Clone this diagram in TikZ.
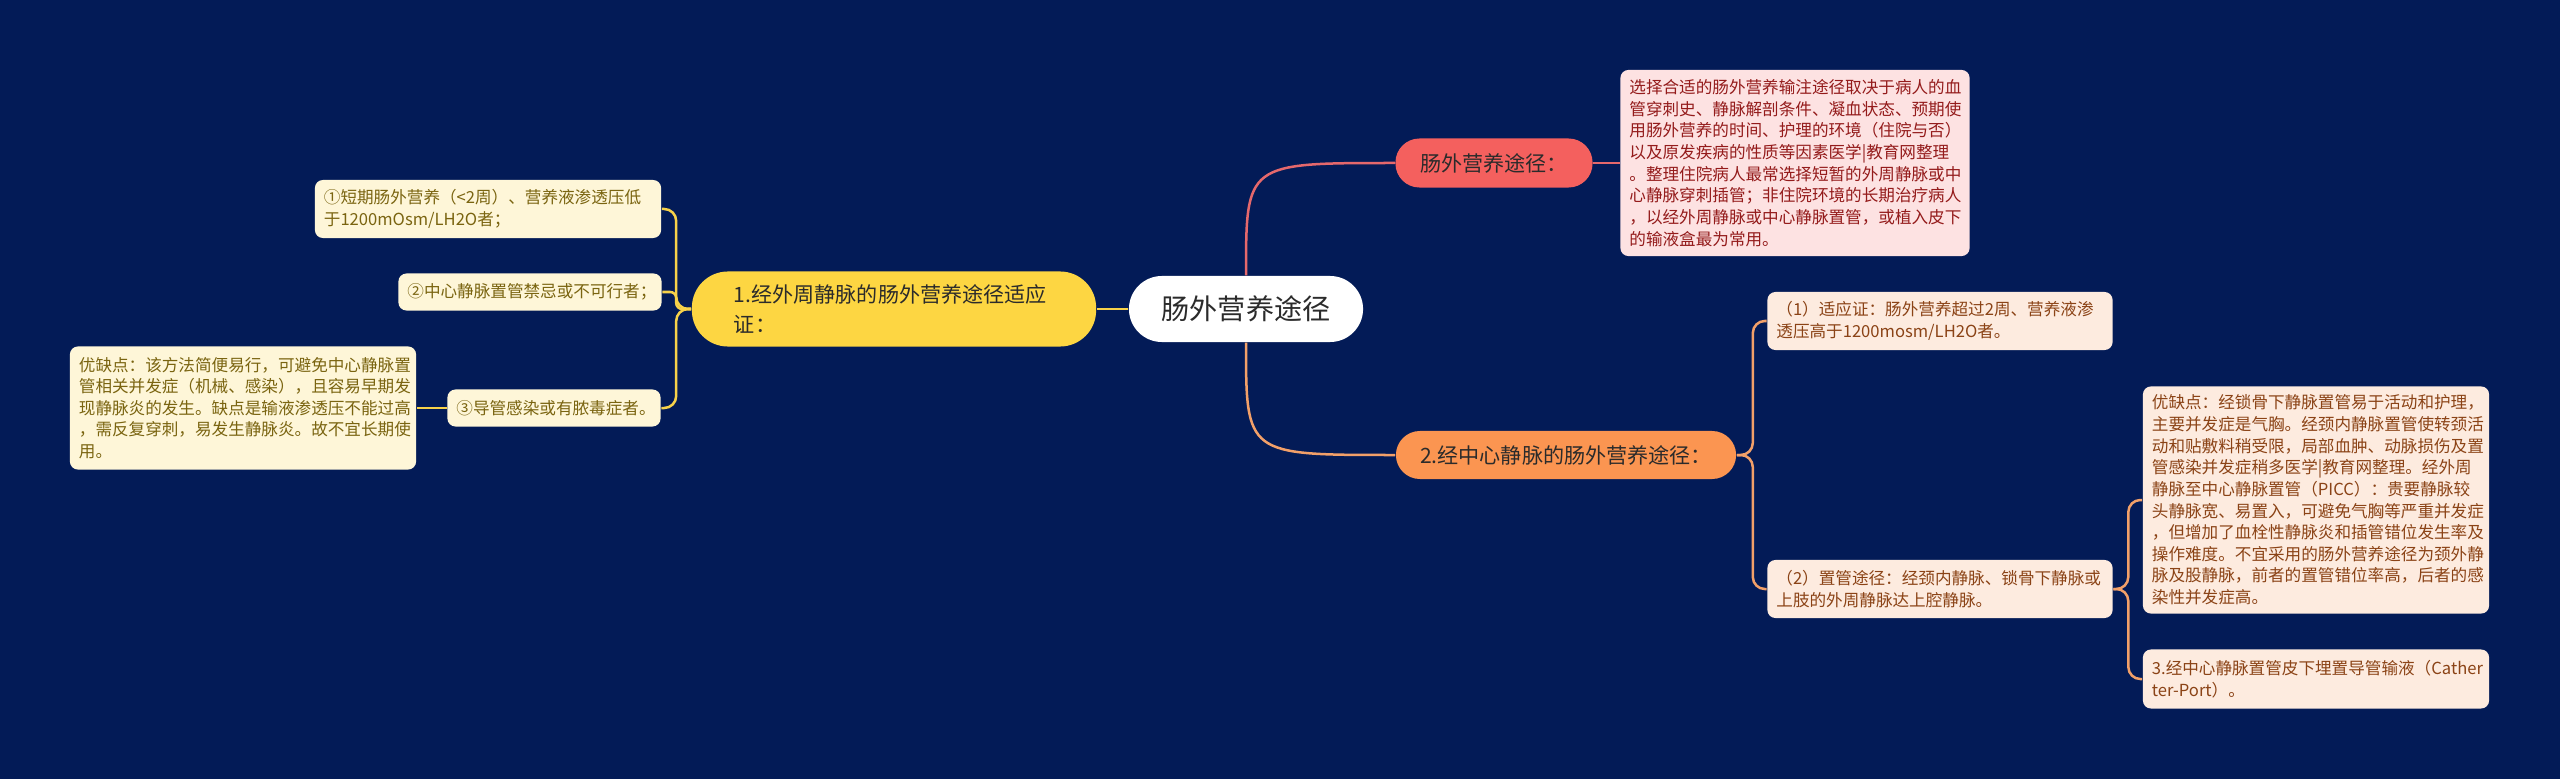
\documentclass[tikz,border=0pt]{standalone}
\usepackage{fontspec}
\setmainfont{Noto Sans CJK SC}
\setlength{\lineskiplimit}{-4pt}

\definecolor{navy}{HTML}{031B57}
\definecolor{redfill}{HTML}{F4605E}
\definecolor{orangefill}{HTML}{FB9551}
\definecolor{yellowfill}{HTML}{FDD642}
\definecolor{redleaf}{HTML}{FDE2E2}
\definecolor{orangeleaf}{HTML}{FDEBDF}
\definecolor{yellowleaf}{HTML}{FEF6D8}
\definecolor{redtext}{HTML}{941B1B}
\definecolor{orangetext}{HTML}{8B4316}
\definecolor{yellowtext}{HTML}{7A6410}
\definecolor{redline}{HTML}{E5686C}
\definecolor{orangeline}{HTML}{F2A069}
\definecolor{yellowline}{HTML}{F7D24A}
\definecolor{darktext}{HTML}{2B2B2B}

\begin{document}
\begin{tikzpicture}[x=0.01cm,y=-0.01cm,
  topic/.style={rounded corners=0.24cm,inner sep=0,text=darktext,
    font=\fontsize{6pt}{8.3pt}\selectfont},
  leaf/.style={rounded corners=0.08cm,inner xsep=0.09cm,inner ysep=0,align=left,
    font=\fontsize{4.72pt}{6.15pt}\selectfont},
  redbox/.style={leaf,fill=redleaf,text=redtext},
  orangebox/.style={leaf,fill=orangeleaf,text=orangetext},
  yellowbox/.style={leaf,fill=yellowleaf,text=yellowtext},
  link/.style={line width=0.025cm}]

\fill[navy] (0,0) rectangle (2560,779);
\useasboundingbox (0,0) rectangle (2560,779);

% centre
\node[fill=white,rounded corners=0.33cm,minimum width=2.34cm,minimum height=0.66cm,inner sep=0,
  text=darktext,font=\fontsize{8pt}{10pt}\selectfont] (root) at (1246,309) {肠外营养途径};

% first level
\node[topic,fill=redfill,minimum width=1.97cm,minimum height=0.49cm] (choose) at (1494,163) {肠外营养途径：};
\node[topic,fill=orangefill,minimum width=3.40cm,minimum height=0.48cm] (central) at (1566,455) {2.经中心静脉的肠外营养途径：};
\node[topic,fill=yellowfill,rounded corners=0.36cm,minimum width=4.04cm,minimum height=0.75cm,
  align=left,text width=3.2cm] (peripheral) at (894,309) {1.经外周静脉的肠外营养途径适应\\证：};

% right side
\node[redbox,text width=3.31cm,minimum height=1.86cm] (choosebox) at (1795,163) {选择合适的肠外营养输注途径取决于病人的血\\管穿刺史、静脉解剖条件、凝血状态、预期使\\用肠外营养的时间、护理的环境（住院与否）\\以及原发疾病的性质等因素医学|教育网整理\\。整理住院病人最常选择短暂的外周静脉或中\\心静脉穿刺插管；非住院环境的长期治疗病人\\，以经外周静脉或中心静脉置管，或植入皮下\\的输液盒最为常用。};

\node[orangebox,text width=3.27cm,minimum height=0.58cm] (indication) at (1940,321) {（1）适应证：肠外营养超过2周、营养液渗\\透压高于1200mosm/LH2O者。};
\node[orangebox,text width=3.27cm,minimum height=0.58cm] (route) at (1940,589) {（2）置管途径：经颈内静脉、锁骨下静脉或\\上肢的外周静脉达上腔静脉。};
\node[orangebox,text width=3.28cm,minimum height=2.27cm] (centralpros) at (2316,500) {优缺点：经锁骨下静脉置管易于活动和护理，\\主要并发症是气胸。经颈内静脉置管使转颈活\\动和贴敷料稍受限，局部血肿、动脉损伤及置\\管感染并发症稍多医学|教育网整理。经外周\\静脉至中心静脉置管（PICC）：贵要静脉较\\头静脉宽、易置入，可避免气胸等严重并发症\\，但增加了血栓性静脉炎和插管错位发生率及\\操作难度。不宜采用的肠外营养途径为颈外静\\脉及股静脉，前者的置管错位率高，后者的感\\染性并发症高。};
\node[orangebox,text width=3.28cm,minimum height=0.59cm] (port) at (2316,679) {3.经中心静脉置管皮下埋置导管输液（Cather\\ter-Port）。};

% left side
\node[yellowbox,text width=3.28cm,minimum height=0.58cm] (shortterm) at (488,209) {①短期肠外营养（<2周）、营养液渗透压低\\于1200mOsm/LH2O者；};
\node[yellowbox,text width=2.45cm,minimum height=0.37cm] (contra) at (530,292) {②中心静脉置管禁忌或不可行者；};
\node[yellowbox,text width=1.95cm,minimum height=0.37cm] (infect) at (554,408) {③导管感染或有脓毒症者。};
\node[yellowbox,text width=3.28cm,minimum height=1.23cm] (peripheralpros) at (243,408) {优缺点：该方法简便易行，可避免中心静脉置\\管相关并发症（机械、感染），且容易早期发\\现静脉炎的发生。缺点是输液渗透压不能过高\\，需反复穿刺，易发生静脉炎。故不宜长期使\\用。};

% links
\draw[link,redline] (root.north) .. controls (root.north |- choose.west) .. (choose.west);
\draw[link,redline] (choose.east) -- (choosebox.west);
\draw[link,orangeline] (root.south) .. controls (root.south |- central.west) .. (central.west);
\draw[link,orangeline,rounded corners=0.12cm] (central.east) -- ++(16,0) |- (indication.west);
\draw[link,orangeline,rounded corners=0.12cm] (central.east) -- ++(16,0) |- (route.west);
\draw[link,orangeline,rounded corners=0.12cm] (route.east) -- ++(15,0) |- (centralpros.west);
\draw[link,orangeline,rounded corners=0.12cm] (route.east) -- ++(15,0) |- (port.west);
\draw[link,yellowline] (root.west) -- (peripheral.east);
\draw[link,yellowline,rounded corners=0.12cm] (peripheral.west) -- ++(-15,0) |- (shortterm.east);
\draw[link,yellowline,rounded corners=0.06cm] (peripheral.west) -- ++(-15,0) |- (contra.east);
\draw[link,yellowline,rounded corners=0.12cm] (peripheral.west) -- ++(-15,0) |- (infect.east);
\draw[link,yellowline] (infect.west) -- (peripheralpros.east);
\end{tikzpicture}
\end{document}
